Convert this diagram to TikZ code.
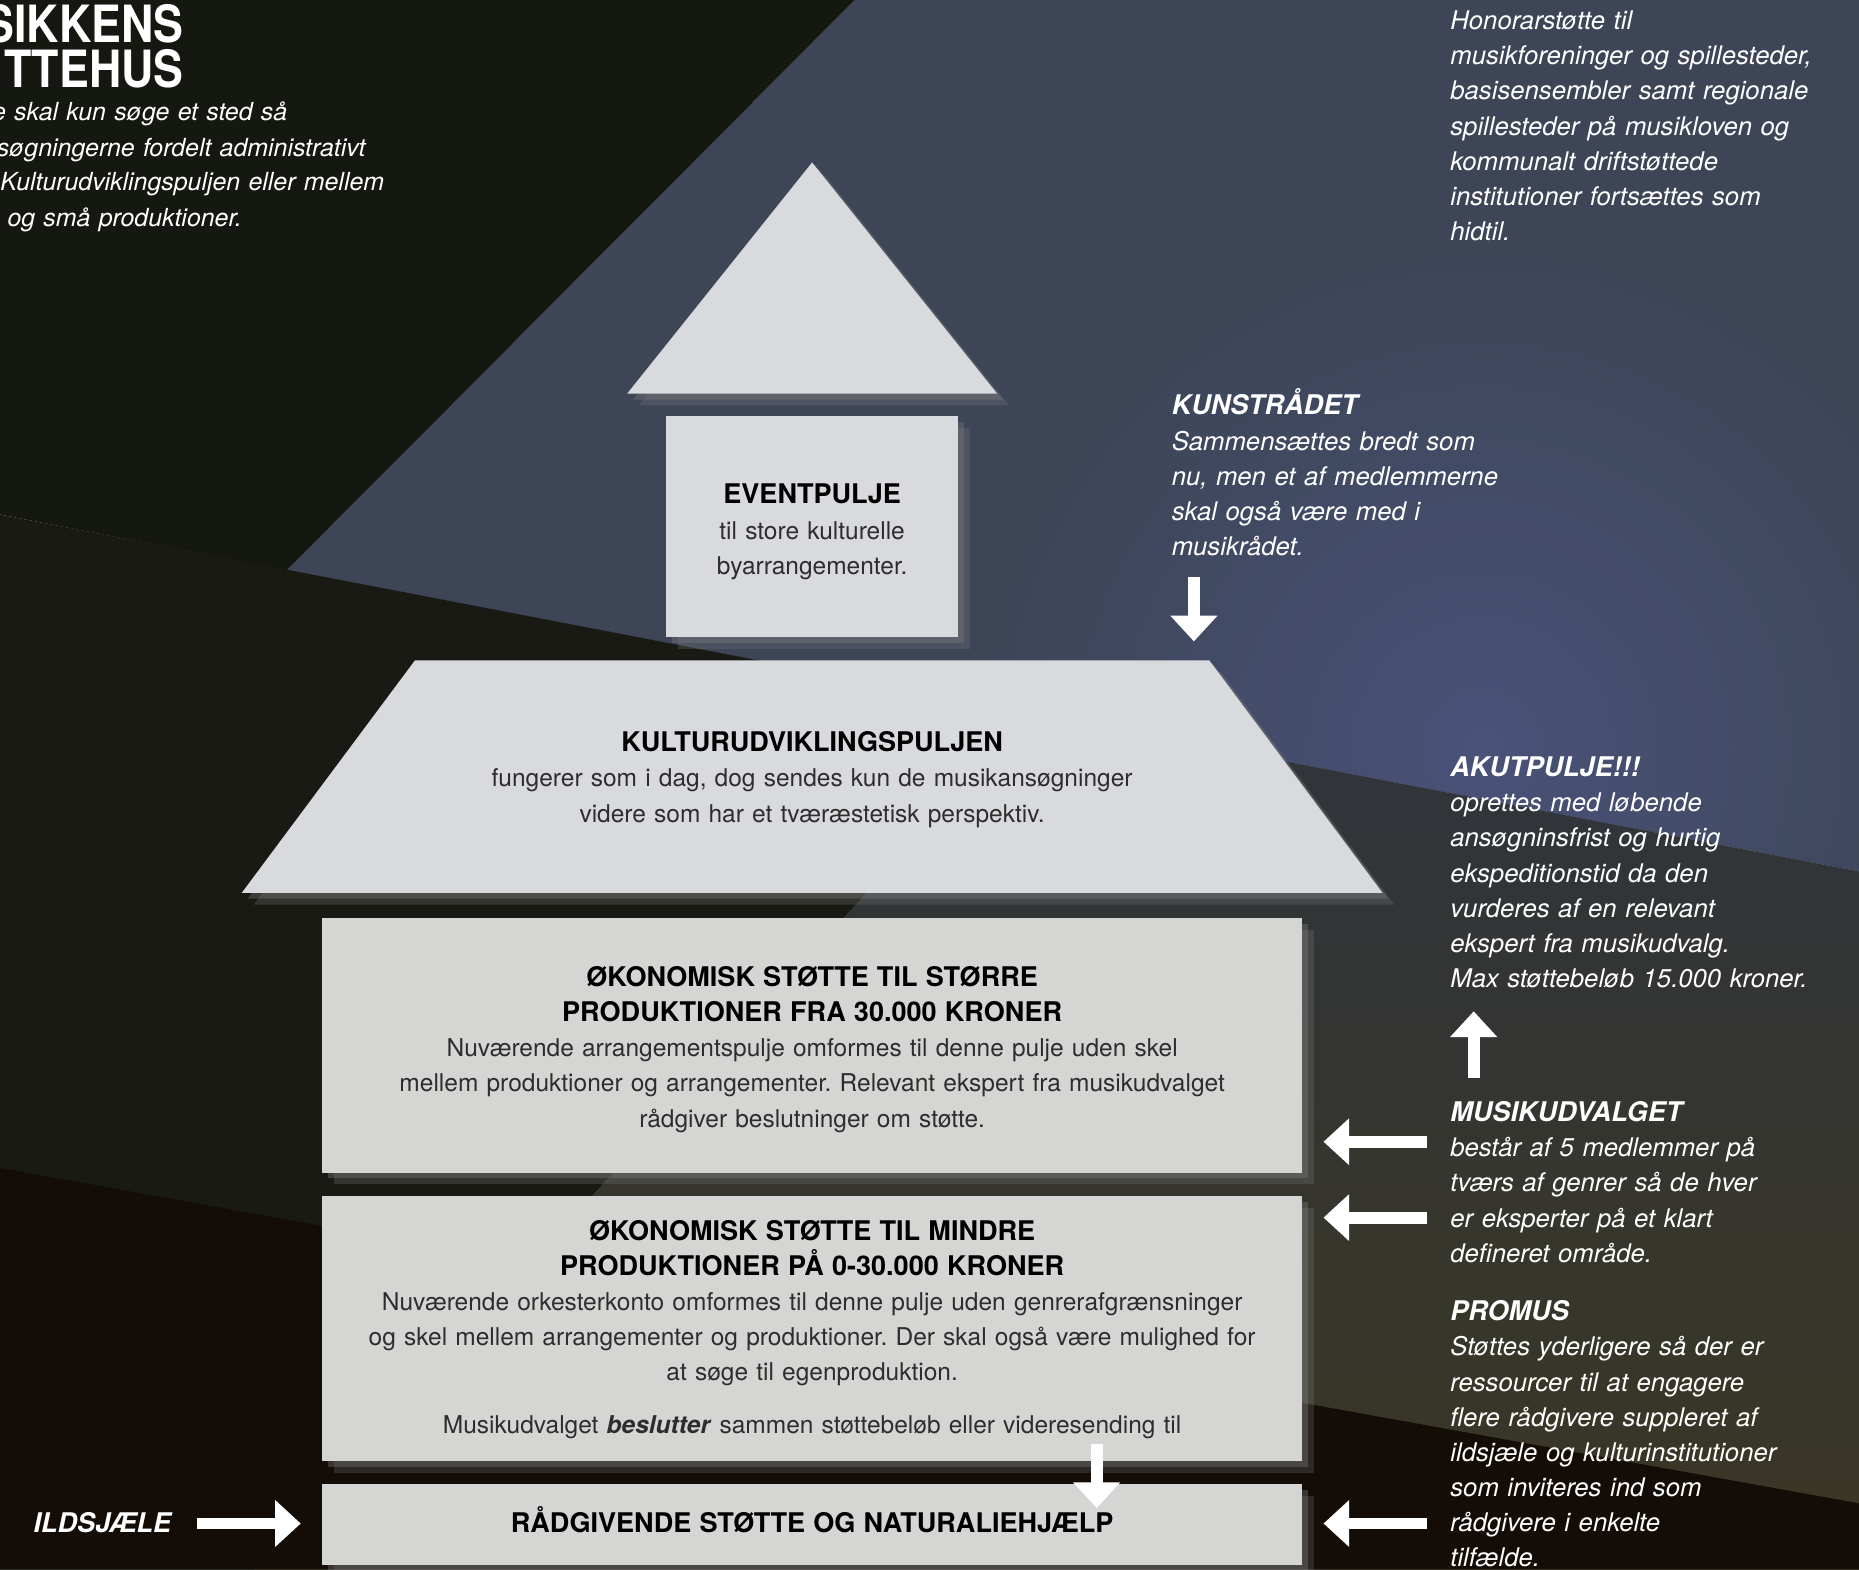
\documentclass[tikz,border=0pt]{standalone}
\usepackage{fontspec}
\setmainfont{TeX Gyre Heros}
\newfontfamily\titlefont[FakeStretch=0.87]{TeX Gyre Heros}
\usetikzlibrary{arrows.meta,shadows}
\definecolor{bg_dark}{RGB}{21, 23, 17}
\definecolor{bg_blue}{RGB}{61, 69, 87}
\definecolor{bg_glow}{RGB}{73, 82, 120}
\definecolor{bg_slate}{RGB}{48, 53, 60}
\definecolor{bg_olive}{RGB}{58, 54, 36}
\definecolor{bg_brown}{RGB}{26, 26, 21}
\definecolor{bg_black}{RGB}{20, 13, 7}
\definecolor{part_fil}{RGB}{217, 218, 221}
\definecolor{box_fil}{RGB}{213, 213, 211}
\definecolor{box_txt}{RGB}{45, 45, 45}
\newcommand\px{0.6pt}
\newcommand\lsk{17.8pt}
\newcommand\boxhead[1]{{\fontsize{13.7pt}{\lsk}\selectfont\bfseries\color{black}#1}}
\newcommand\sidehead[1]{{\fontsize{13.7pt}{\lsk}\selectfont\bfseries #1}}
\tikzset{house_part/.style = {fill=part_fil, drop shadow={shadow xshift=3pt, shadow yshift=-3pt, opacity=.35}, drop shadow={shadow xshift=6pt, shadow yshift=-6pt, opacity=.25}}}
\tikzset{house_box/.style = {house_part, fill=box_fil, rectangle, inner sep=0pt}}
\tikzset{box_text/.style = {anchor=base, inner sep=0pt, text width=490pt, align=center, text=box_txt, font=\fontsize{12.4pt}{\lsk}\selectfont\frenchspacing}}
\tikzset{side_text/.style = {anchor=base west, inner sep=0pt, text width=330pt, align=left, text=white, font=\fontsize{13pt}{\lsk}\selectfont\itshape\frenchspacing}}
\tikzset{myarrow/.style = {draw=white, line width=6pt, -{Triangle[width=23pt, length=13pt]}}}

\begin{document}
\begin{tikzpicture}[x=\px, y=-\px]
\useasboundingbox (0,0) rectangle (1568,1324);
\clip (0,0) rectangle (1568,1324);

% background
\fill[bg_blue] (721,0) -- (1568,0) -- (1568,735) -- (242,481) -- cycle;
\begin{scope}
	\clip (721,0) -- (1568,0) -- (1568,735) -- (242,481) -- cycle;
	\shade[inner color=bg_glow, outer color=bg_blue] (1250,630) circle (420);
\end{scope}
\fill[bg_dark] (0,0) -- (721,0) -- (242,481) -- (0,434) -- cycle;
\shade[top color=bg_slate, bottom color=bg_olive] (869,601) -- (1568,735) -- (1568,1324) -- (214,1324) -- cycle;
\fill[bg_brown] (0,434) -- (869,601) -- (214,1324) -- (0,1324) -- cycle;
\fill[bg_black] (0,985) -- (1568,1268) -- (1568,1324) -- (0,1324) -- cycle;

% house
\fill[house_part] (529,332) -- (685,137) -- (841,332) -- cycle;
\node[house_box, fill=part_fil, minimum width=246*\px, minimum height=186*\px] (eventbox) at (685,444) {};
\fill[house_part] (350,557) -- (1020,557) -- (1166,753) -- (204,753) -- cycle;
\node[house_box, minimum width=826*\px, minimum height=215*\px] (storbox) at (685,881.5) {};
\node[house_box, minimum width=826*\px, minimum height=224*\px] (mindrebox) at (685,1120.5) {};
\node[house_box, minimum width=826*\px, minimum height=68*\px] (raadbox) at (685,1286) {};

\node[box_text] (eventtxt) at (685,425) {\boxhead{EVENTPULJE}\\til store kulturelle\\byarrangementer.};
\node[box_text] (kulturtxt) at (685,634) {\boxhead{KULTURUDVIKLINGSPULJEN}\\fungerer som i dag, dog sendes kun de musikansøgninger\\videre som har et tværæstetisk perspektiv.};
\node[box_text] (stortxt) at (685,832) {\boxhead{ØKONOMISK STØTTE TIL STØRRE}\\\boxhead{PRODUKTIONER FRA 30.000 KRONER}\\Nuværende arrangementspulje omformes til denne pulje uden skel\\mellem produktioner og arrangementer. Relevant ekspert fra musikudvalget\\rådgiver beslutninger om støtte.};
\node[box_text] (mindretxt) at (685,1046) {\boxhead{ØKONOMISK STØTTE TIL MINDRE}\\\boxhead{PRODUKTIONER PÅ 0-30.000 KRONER}\\Nuværende orkesterkonto omformes til denne pulje uden genrerafgrænsninger\\og skel mellem arrangementer og produktioner. Der skal også være mulighed for\\at søge til egenproduktion.\\[8.9pt]Musikudvalget \textbf{\textit{beslutter}} sammen støttebeløb eller videresending til};
\node[box_text] (raadtxt) at (685,1293) {\boxhead{RÅDGIVENDE STØTTE OG NATURALIEHJÆLP}};

% side texts
\node[anchor=base east, inner sep=0pt, text width=200pt, align=right, text=white, font=\titlefont\fontsize{26pt}{22.8pt}\selectfont\bfseries] (title) at (155,35.5) {SIKKENS\\TTEHUS};
\foreach \txt/\xx/\yy [count=\i] in {e skal kun søge et sted så/-7/102, søgningerne fordelt administrativt/-3/132, Kulturudviklingspuljen eller mellem/0/161, og små produktioner./6/191}
	\node[side_text, font=\fontsize{12.6pt}{\lsk}\selectfont\itshape] (intro\i) at (\xx,\yy) {\txt};
\node[side_text] (honorar) at (1223,25) {Honorarstøtte til\\musikforeninger og spillesteder,\\basisensembler samt regionale\\spillesteder på musikloven og\\kommunalt driftstøttede\\institutioner fortsættes som\\hidtil.};
\node[side_text] (kunst) at (988,350) {\sidehead{KUNSTRÅDET}\\Sammensættes bredt som\\nu, men et af medlemmerne\\skal også være med i\\musikrådet.};
\node[side_text] (akut) at (1223,655) {\sidehead{AKUTPULJE!!!}\\oprettes med løbende\\ansøgninsfrist og hurtig\\ekspeditionstid da den\\vurderes af en relevant\\ekspert fra musikudvalg.\\Max støttebeløb 15.000 kroner.};
\node[side_text] (musik) at (1223,946) {\sidehead{MUSIKUDVALGET}\\består af 5 medlemmer på\\tværs af genrer så de hver\\er eksperter på et klart\\defineret område.};
\node[side_text] (promus) at (1223,1114) {\sidehead{PROMUS}\\Støttes yderligere så der er\\ressourcer til at engagere\\flere rådgivere suppleret af\\ildsjæle og kulturinstitutioner\\som inviteres ind som\\rådgivere i enkelte\\tilfælde.};
\node[side_text] (ildsjaele) at (28,1293) {\sidehead{ILDSJÆLE}};

% arrows
\coordinate (kunst_a) at (1007,487);
\coordinate (kunst_b) at (1007,541);
\coordinate (akut_a) at (1243,909);
\coordinate (akut_b) at (1243,853);
\coordinate (musik_a) at (1204,963);
\coordinate (musik_b) at (1204,1027);
\coordinate (promus_a) at (1204,1285);
\coordinate (mindre_a) at (925,1218);
\coordinate (raad_b) at (925,1272);
\coordinate (ild_a) at (166,1285);
\draw[myarrow] (kunst_a) -- (kunst_b);
\draw[myarrow] (akut_a) -- (akut_b);
\draw[myarrow, shorten >=10.8pt] (musik_a) -- (storbox.east |- musik_a);
\draw[myarrow, shorten >=10.8pt] (musik_b) -- (mindrebox.east |- musik_b);
\draw[myarrow, shorten >=10.8pt] (promus_a) -- (raadbox.east |- promus_a);
\draw[myarrow] (mindre_a) -- (raad_b);
\draw[myarrow, shorten >=10.8pt] (ild_a) -- (raadbox.west |- ild_a);
\end{tikzpicture}
\end{document}
